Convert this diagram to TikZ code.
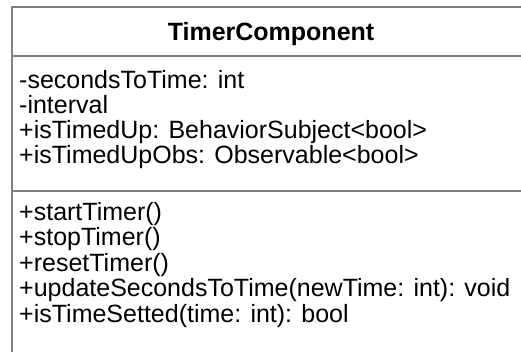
\documentclass[tikz,border=0pt]{standalone}
\usepackage{fontspec}
\setmainfont{Liberation Sans}
\definecolor{umlline}{RGB}{128,128,128}
\tikzset{
  umltxt/.style={anchor=base west, inner sep=0pt, font=\fontsize{25}{25}\selectfont},
  umltitle/.style={anchor=base, inner sep=0pt, font=\fontsize{25}{25}\selectfont\bfseries},
  umlbox/.style={draw=umlline, line width=2pt, fill=white}
}
\begin{document}
\begin{tikzpicture}[x=1pt,y=-1pt]
\useasboundingbox (0,0) rectangle (521,351);
\clip (0,0) rectangle (521,351);
\fill[white] (0,0) rectangle (521,351);
\draw[umlbox] (12,6.5) rectangle (531,400);
\draw[umlline, line width=2pt] (12,56) -- (531,56);
\draw[umlline, line width=2pt] (12,191) -- (531,191);
\node[umltitle] (title) at (271,40) {TimerComponent};
\node[umltxt] (a1) at (19,88) {-secondsToTime: int};
\node[umltxt] (a2) at (19,113) {-interval};
\node[umltxt] (a3) at (19,138) {+isTimedUp: BehaviorSubject<bool>};
\node[umltxt] (a4) at (19,163) {+isTimedUpObs: Observable<bool>};
\node[umltxt] (m1) at (19,220) {+startTimer()};
\node[umltxt] (m2) at (19,245.5) {+stopTimer()};
\node[umltxt] (m3) at (19,271) {+resetTimer()};
\node[umltxt] (m4) at (19,296.5) {+updateSecondsToTime(newTime: int): void};
\node[umltxt] (m5) at (19,322) {+isTimeSetted(time: int): bool};
\end{tikzpicture}
\end{document}
